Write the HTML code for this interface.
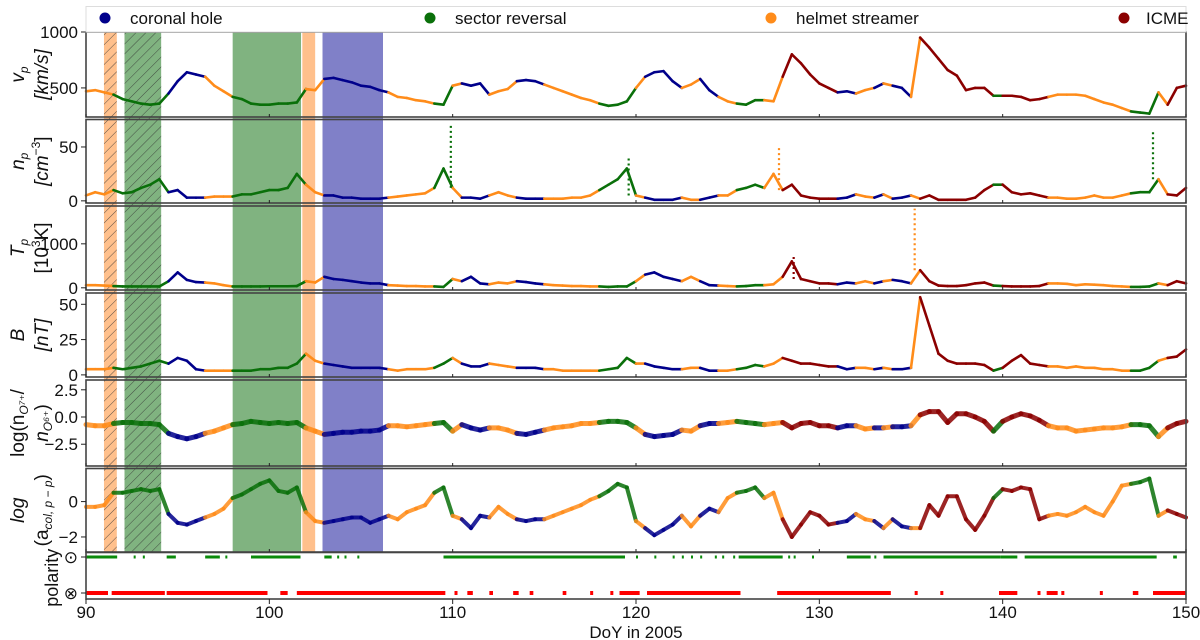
<!DOCTYPE html>
<html><head><meta charset="utf-8"><title>Solar wind 2005</title>
<style>
html,body{margin:0;padding:0;background:#fff;}
svg{display:block;font-family:"Liberation Sans","DejaVu Sans",sans-serif;}
</style></head>
<body>
<svg id="chart" width="1200" height="640" viewBox="0 0 1200 640" xmlns="http://www.w3.org/2000/svg">
<defs>
<pattern id="hatch" width="7" height="7" patternUnits="userSpaceOnUse" patternTransform="rotate(45)">
<line x1="0" y1="0" x2="0" y2="7" stroke="#333" stroke-width="1" opacity="0.8"/>
</pattern>
</defs>
<g id="bands"></g>
<g id="series"></g>
<g id="frames"></g>
<g id="legend">
<rect x="86" y="6.5" width="1100" height="25.5" fill="#fff" stroke="#ddd" stroke-width="1"/>
<g><circle cx="105" cy="18" r="5.5" fill="#00008b"/><text x="130" y="24" font-size="17" fill="#111">coronal hole</text></g>
<g><circle cx="430" cy="18" r="5.5" fill="#0a700a"/><text x="455" y="24" font-size="17" fill="#111">sector reversal</text></g>
<g><circle cx="771" cy="18" r="5.5" fill="#ff8c1a"/><text x="796" y="24" font-size="17" fill="#111">helmet streamer</text></g>
<g><circle cx="1124" cy="18" r="5.5" fill="#8b0000"/><text x="1146" y="24" font-size="17" fill="#111">ICME</text></g>
</g>
<text x="636" y="638" font-size="17" text-anchor="middle" fill="#111">DoY in 2005</text>
</svg>
<script>
// ---- data (half-day samples from DoY 90.0 to 150.0) ----
const startDay = 90, stepDay = 0.5;
const categories = "hhhs"+"sssss"+"cccc"+"hhh"+"ssssssss"+"hh"+"ccccccc"+"hhhhh"+"ss"+"h"+"ccc"+"hhh"+"ccc"+"hhhhhh"+"ssss"+"h"+"cccc"+"hh"+"cc"+"hh"+"sss"+"hh"+"iiiiii"+"cc"+"hh"+"c"+"h"+"cc"+"h"+"iiiiiiii"+"s"+"iiiii"+"hhhhhhhhh"+"sss"+"h"+"iii";
const vpValues = [470,480,460,440,400,380,360,350,360,450,560,640,620,600,520,470,420,400,360,350,350,360,360,370,490,480,580,590,570,550,520,510,480,460,420,410,390,380,360,350,520,540,520,540,440,470,490,560,570,560,530,500,470,440,410,390,360,340,350,380,500,600,640,650,560,500,530,580,480,420,380,360,350,390,390,380,600,800,720,620,540,500,460,470,450,480,500,540,520,500,420,950,860,760,660,610,480,500,500,430,430,430,420,390,400,420,440,440,440,430,400,370,350,320,290,280,270,460,350,500,520];
const npValues = [5,8,6,10,7,8,12,15,20,8,10,3,3,3,4,4,4,6,6,8,10,10,12,25,15,8,5,5,3,3,2,2,2,3,4,5,6,7,12,30,12,3,3,2,5,8,5,3,2,2,2,2,2,3,3,5,10,15,20,30,5,3,1,1,1,3,1,1,3,5,5,10,12,15,12,25,10,15,5,3,2,2,2,3,6,4,3,6,2,3,5,2,5,1,1,1,1,3,10,15,15,8,6,7,5,3,3,2,2,3,5,3,3,5,7,8,8,20,6,5,12];
const tpValues = [60,60,50,40,30,30,30,30,30,150,350,180,130,120,100,60,30,30,30,30,35,35,35,40,150,120,250,200,180,150,120,100,100,60,50,40,40,30,30,20,200,150,250,100,80,120,100,150,130,100,80,60,50,40,40,30,30,20,30,30,150,300,350,250,200,150,250,150,60,50,40,30,40,60,60,80,250,600,200,150,100,100,80,120,100,150,100,150,180,150,100,400,150,50,40,40,60,100,120,50,40,30,30,30,40,100,100,90,60,80,70,60,40,30,20,20,30,100,60,150,100];
const bValues = [4,4,4,5,4,5,6,8,10,8,12,10,4,3,3,3,3,3,3,4,4,5,5,8,15,10,8,7,6,5,5,5,5,4,3,4,4,4,5,8,12,8,6,6,8,7,6,5,5,5,4,4,3,3,3,3,3,4,5,12,8,8,6,5,4,4,5,5,3,3,3,4,5,7,6,8,12,10,8,8,7,6,6,4,5,5,4,5,4,4,5,55,35,15,10,8,8,8,7,3,5,10,14,8,7,6,6,5,6,5,5,4,4,3,3,3,5,10,12,13,18];
const oRatioValues = [-0.7,-0.8,-0.8,-0.6,-0.5,-0.5,-0.6,-0.6,-0.7,-1.5,-1.8,-2.0,-1.8,-1.5,-1.3,-1.0,-0.7,-0.6,-0.4,-0.5,-0.6,-0.5,-0.6,-0.5,-1.0,-1.3,-1.6,-1.5,-1.4,-1.4,-1.3,-1.3,-1.2,-0.8,-0.8,-0.9,-0.8,-0.7,-0.6,-0.5,-1.3,-0.7,-1.0,-1.2,-1.0,-1.0,-1.2,-1.5,-1.6,-1.4,-1.2,-1.0,-0.9,-0.8,-0.6,-0.6,-0.5,-0.4,-0.4,-0.5,-1.0,-1.6,-1.8,-1.7,-1.6,-1.2,-1.3,-0.8,-0.6,-0.6,-0.5,-0.4,-0.5,-0.6,-0.7,-0.6,-0.5,-1.0,-0.6,-0.5,-0.8,-0.8,-1.0,-0.8,-0.8,-1.1,-1.0,-1.0,-0.9,-0.9,-0.8,0.2,0.5,0.5,-0.5,0.3,0.3,0.0,-0.4,-1.3,-0.4,0.0,0.3,0.1,-0.3,-0.8,-1.0,-1.0,-1.3,-1.2,-1.1,-1.0,-1.0,-0.9,-0.7,-0.7,-0.8,-1.8,-1.0,-0.6,-0.4];
const alphaValues = [-0.3,-0.3,-0.2,0.5,0.5,0.6,0.7,0.6,0.7,-0.7,-1.2,-1.3,-1.1,-0.9,-0.7,-0.4,0.2,0.4,0.7,1.0,1.2,0.6,0.5,0.8,-0.6,-1.1,-1.2,-1.1,-1.0,-0.9,-0.9,-1.2,-1.0,-0.8,-1.0,-0.6,-0.4,-0.2,0.5,0.8,-0.8,-1.0,-1.5,-0.8,-0.9,-0.3,-0.7,-1.0,-1.1,-1.0,-1.0,-0.8,-0.6,-0.4,-0.2,0.1,0.3,0.6,1.0,0.8,-1.1,-1.5,-1.9,-1.6,-1.3,-0.8,-1.4,-0.8,-0.4,-0.6,0.2,0.5,0.6,0.8,0.2,0.5,-1.0,-2.0,-1.3,-0.6,-0.8,-1.3,-1.2,-1.1,-0.7,-1.0,-1.1,-1.5,-1.0,-1.4,-1.5,-1.5,-0.2,-0.8,0.3,0.3,-1.0,-1.6,-0.8,0.2,0.7,0.6,0.8,0.7,-1.0,-0.8,-0.7,-0.8,-0.6,-0.3,-0.6,-0.8,0.0,0.9,1.0,1.1,1.3,-0.8,-0.5,-0.7,-0.9];
const npPeaks = [[109.9,72],[119.6,40],[127.8,50],[148.2,65]];
const tpPeaks = [[135.2,1800],[128.6,700]];
const polarityAway = [[90,91.7],[92.6,92.7],[93.1,93.2],[94.4,94.9],[96.5,97.3],[97.6,97.7],[99.0,101.7],[103.0,103.4],[103.7,103.8],[104.1,104.2],[104.8,104.9],[109.5,119.4],[120.0,120.1],[121.0,121.1],[122.0,122.1],[122.5,122.6],[123.0,123.1],[123.5,123.6],[124.3,124.4],[124.7,124.8],[125.3,125.4],[125.6,128.0],[128.3,128.4],[128.6,128.7],[129.6,129.7],[131.5,132.8],[133.0,133.1],[133.5,139.9],[139.9,140.8],[141.2,148.4],[149.3,149.5]];
const polarityToward = [[90,91.2],[91.4,94.3],[94.4,99.9],[100.6,101.0],[101.5,109.6],[110.1,110.2],[110.8,111.1],[112.0,112.2],[113.3,113.6],[114.2,114.4],[116.0,116.2],[117.5,117.6],[118.6,118.7],[119.1,120.2],[120.6,125.7],[127.7,133.9],[135.2,135.3],[136.6,136.7],[139.8,140.8],[141.9,142.0],[142.4,143.0],[143.2,143.3],[145.3,145.4],[147.1,147.4],[148.2,150]];
const bandsData = [[90.98,91.68,"h",true],[92.1,94.1,"s",true],[98.0,101.73,"s",false],[101.8,102.5,"h",false],[102.9,106.2,"c",false]];
const xTicks = [90,100,110,120,130,140,150];

// ---- layout ----
const NS = "http://www.w3.org/2000/svg";
const X0 = 86, X1 = 1186, D0 = 90, D1 = 150;
function xs(d){ return X0 + (d - D0) * (X1 - X0) / (D1 - D0); }
const catColor = {c:"#00008b", s:"#0a700a", h:"#ff8c1a", i:"#8b0000"};
const bandColor = {c:"#8080c8", s:"#80b380", h:"#ffc08c"};
const panels = [
 {key:"vp", top:32, bot:117, lo:240, hi:1000, vals:vpValues, ticks:[500,1000], fmt:v=>String(v), l1:"v", s1:"p", l2:"[km/s]", w:2.6},
 {key:"np", top:119.5, bot:203, lo:-2, hi:75.5, vals:npValues, ticks:[0,50], fmt:v=>String(v), l1:"n", s1:"p", l2:"[cm", sup2:"−3", end2:"]", w:2.6, peaks:npPeaks},
 {key:"tp", top:206, bot:290, lo:-50, hi:1860, vals:tpValues, ticks:[0,1000], fmt:v=>String(v), l1:"T", s1:"p", l2:"[10", sup2:"3", end2:"K]", w:2.6, peaks:tpPeaks},
 {key:"b", top:293, bot:377, lo:-1.5, hi:58, vals:bValues, ticks:[0,25,50], fmt:v=>String(v), l1:"B", s1:"", l2:"[nT]", w:2.6},
 {key:"oratio", top:380, bot:466, lo:-4.5, hi:3.4, vals:oRatioValues, ticks:[-2.5,0,2.5], fmt:v=>(v<0?"−":"")+Math.abs(v).toFixed(1), l1:"log(n", s1:"O⁷⁺", tail1:"/", l2:"n", sub2:"O⁶⁺", end2:")", w:5},
 {key:"alpha", top:468.5, bot:552, lo:-2.85, hi:1.87, vals:alphaValues, ticks:[-2,0], fmt:v=>(v<0?"−":"")+Math.abs(v), l1:"log", s1:"", l2:"(a", sub2:"col, p − p", end2:")", w:4}
];
function mk(tag, attrs, parent){
  const e = document.createElementNS(NS, tag);
  for (const k in attrs) e.setAttribute(k, attrs[k]);
  parent.appendChild(e); return e;
}
const gBands = document.getElementById("bands");
const gSeries = document.getElementById("series");
const gFrames = document.getElementById("frames");

bandsData.forEach(b=>{
  const r = mk("rect",{x:xs(b[0]),y:32,width:xs(b[1])-xs(b[0]),height:552-32,fill:bandColor[b[2]]},gBands);
  
  
  if (b[3]) {
    const h = mk("rect",{x:xs(b[0]),y:32,width:xs(b[1])-xs(b[0]),height:552-32,fill:"url(#hatch)"},gBands);
    
    
  }
});

panels.forEach(p=>{
  const ys = v => p.bot - (v - p.lo) * (p.bot - p.top) / (p.hi - p.lo);
  const g = mk("g",{},gSeries);
  
  
  for (let k=0; k<p.vals.length-1; k++){
    const d0 = startDay + k*stepDay, d1 = d0 + stepDay;
    const ln = mk("line",{x1:xs(d0),y1:ys(p.vals[k]),x2:xs(d1),y2:ys(p.vals[k+1]),stroke:catColor[categories[k]],"stroke-width":p.w,"stroke-linecap":"round",opacity:p.w>3?0.85:1},g);
    
    
  }
  (p.peaks||[]).forEach(pk=>{
    const k = Math.floor((pk[0]-startDay)/stepDay);
    const ln = mk("line",{x1:xs(pk[0]),y1:ys(p.vals[k+1]),x2:xs(pk[0]),y2:ys(pk[1]),stroke:catColor[categories[k]],"stroke-width":2.2,"stroke-dasharray":"2 3"},g);
    
    
  });
  const fr = mk("rect",{x:X0,y:p.top,width:X1-X0,height:p.bot-p.top,fill:"none",stroke:"#444","stroke-width":1.6},gFrames);
  
  
  p.ticks.forEach(t=>{
    const y = ys(t);
    mk("line",{x1:X0-5,y1:y,x2:X0,y2:y,stroke:"#222","stroke-width":1},gFrames);
    const tx = mk("text",{x:X0-8,y:y+6,"font-size":17,"text-anchor":"end",fill:"#111"},gFrames);
    tx.textContent = p.fmt(t);
    
    
  });
  xTicks.forEach(t=>{
    mk("line",{x1:xs(t),y1:p.bot,x2:xs(t),y2:p.bot-3,stroke:"#222","stroke-width":1},gFrames);
  });
  const cy = (p.top + p.bot)/2;
  const t1 = mk("text",{x:0,y:0,"font-size":19,"text-anchor":"middle",fill:"#111",transform:`translate(24,${cy}) rotate(-90)`},gFrames);
  
  
  const a = mk("tspan",{"font-style":p.key==="oratio"?"normal":"italic"},t1); a.textContent = p.l1;
  if (p.s1){ const s = mk("tspan",{"font-size":12,dy:4,"font-style":"italic"},t1); s.textContent = p.s1; }
  if (p.tail1){ const s = mk("tspan",{dy:-4},t1); s.textContent = p.tail1; }
  const t2 = mk("text",{x:0,y:0,"font-size":19,"text-anchor":"middle",fill:"#111",transform:`translate(48,${cy}) rotate(-90)`},gFrames);
  
  
  const b2 = mk("tspan",{"font-style":["vp","np","b","oratio"].includes(p.key)?"italic":"normal"},t2); b2.textContent = p.l2;
  if (p.sup2){ const s = mk("tspan",{"font-size":12,dy:-8},t2); s.textContent = p.sup2; const e = mk("tspan",{dy:8},t2); e.textContent = p.end2; }
  if (p.sub2){ const s = mk("tspan",{"font-size":12,dy:4,"font-style":"italic"},t2); s.textContent = p.sub2; const e = mk("tspan",{dy:-4},t2); e.textContent = p.end2; }
});

// polarity panel
const PT = 552.5, PB = 599, YA = 557, YT = 593;
const gp = mk("g",{},gSeries);


polarityAway.forEach(iv=>{
  const r = mk("rect",{x:xs(iv[0]),y:YA-1.5,width:Math.max(2,xs(iv[1])-xs(iv[0])),height:3,fill:"#0a8a0a"},gp);
  
  
});
polarityToward.forEach(iv=>{
  const r = mk("rect",{x:xs(iv[0]),y:YT-2,width:Math.max(3,xs(iv[1])-xs(iv[0])),height:4,fill:"#ff0000"},gp);
  
  
});
const pf = mk("rect",{x:X0,y:PT,width:X1-X0,height:PB-PT,fill:"none",stroke:"#444","stroke-width":1.6},gFrames);


[[YA,"⊙"],[YT,"⊗"]].forEach(t=>{
  mk("line",{x1:X0-5,y1:t[0],x2:X0,y2:t[0],stroke:"#222","stroke-width":1},gFrames);
  const tx = mk("text",{x:X0-8,y:t[0]+6,"font-size":17,"text-anchor":"end",fill:"#111","font-family":"DejaVu Sans, sans-serif"},gFrames);
  tx.textContent = t[1];
  
  
});
const pl = mk("text",{x:0,y:0,"font-size":18,"text-anchor":"middle",fill:"#111",transform:`translate(58,${(PT+PB)/2+2}) rotate(-90)`},gFrames);
pl.textContent = "polarity";



xTicks.forEach(t=>{
  mk("line",{x1:xs(t),y1:PB,x2:xs(t),y2:PB+5,stroke:"#222","stroke-width":1},gFrames);
  const tx = mk("text",{x:xs(t),y:618,"font-size":17,"text-anchor":"middle",fill:"#111"},gFrames);
  tx.textContent = String(t);
  
  
});
</script>
</body></html>
